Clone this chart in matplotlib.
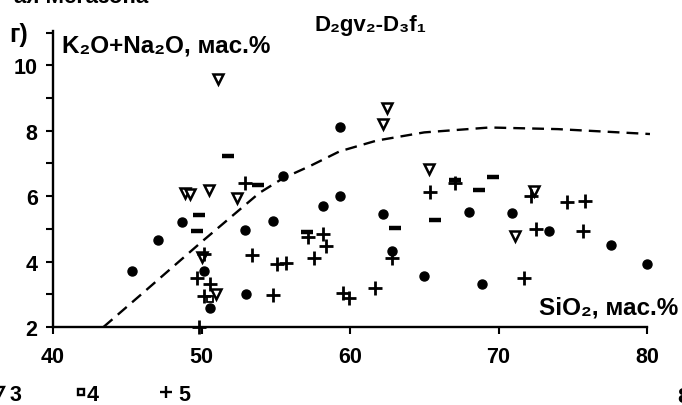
import matplotlib
matplotlib.use("Agg")
import matplotlib.pyplot as plt
from matplotlib.lines import Line2D
from matplotlib.ticker import MultipleLocator

plt.rcParams['font.family'] = ['Liberation Sans', 'DejaVu Sans']
plt.rcParams['font.weight'] = 'bold'

# серия 1 - кружки
x1 = [45.3, 47.1, 48.7, 50.2, 50.6, 52.9, 53.0, 54.8, 55.5, 58.2, 59.3, 59.3,
      62.2, 62.8, 65.0, 68.0, 68.9, 70.9, 73.4, 77.6, 80.0]
y1 = [3.72, 4.67, 5.2, 3.72, 2.57, 4.97, 3.0, 5.24, 6.62, 5.69, 8.12, 6.0,
      5.45, 4.31, 3.57, 5.53, 3.31, 5.48, 4.92, 4.5, 3.92]

# серия 2 - черточки
x2 = [49.8, 49.7, 51.8, 53.8, 57.1, 63.0, 65.7, 67.1, 68.7, 69.6]
y2 = [5.43, 4.94, 7.23, 6.35, 4.9, 5.04, 5.28, 6.5, 6.18, 6.6]

# серия 3 - треугольники
x3 = [51.1, 48.9, 49.2, 50.5, 52.4, 62.5, 62.2, 65.3, 71.1, 50.0, 51.0, 72.4]
y3 = [9.57, 6.11, 6.08, 6.18, 5.95, 8.71, 8.2, 6.82, 4.79, 4.13, 3.0, 6.15]

# серия 4 - квадраты
x4 = [50.6]
y4 = [2.85]

# серия 5 - кресты
x5 = [49.8, 50.2, 49.7, 50.6, 50.2, 52.9, 53.4, 54.8, 55.1, 55.7, 57.2, 57.6,
      58.2, 58.4, 59.5, 59.95, 61.7, 62.8, 65.4, 67.1, 71.7, 72.2, 72.5, 74.6,
      75.8, 75.7]
y5 = [2.0, 4.23, 3.5, 3.3, 2.96, 6.4, 4.2, 2.98, 3.92, 3.95, 4.75, 4.1,
      4.84, 4.48, 3.03, 2.88, 3.19, 4.1, 6.13, 6.4, 3.49, 6.0, 5.01, 5.83,
      5.86, 4.94]

# пунктирная граница
xc = [43.4, 46.0, 50.0, 53.9, 55.5, 57.3, 59.3, 61.8, 65.0, 69.4, 74.0, 80.2]
yc = [2.0, 3.02, 4.6, 6.1, 6.55, 6.92, 7.37, 7.7, 7.95, 8.1, 8.05, 7.9]

W, H = 682, 406


def px(x, y):
    return x / W, 1 - y / H


fig = plt.figure(figsize=(6.82, 4.06), dpi=100)
ax = fig.add_axes([53 / W, 78 / H, 594 / W, 296 / H])

ax.plot(xc, yc, color='black', lw=1.7, ls=(0, (5, 3)), clip_on=False)

ax.plot(x1, y1, 'o', color='black', ms=6.5, clip_on=False)
ax.plot(x2, y2, '_', color='black', ms=9, mew=3.2, clip_on=False)
ax.plot(x3, y3, 'v', mfc='white', mec='black', ms=7.5, mew=1.8, clip_on=False)
ax.plot(x4, y4, 's', mfc='white', mec='black', ms=4, mew=1.3, clip_on=False)
ax.plot(x5, y5, '+', color='black', ms=10, mew=2.0, clip_on=False)

ax.set_xlim(40, 80)
ax.set_ylim(2, 11.05)
ax.spines['top'].set_visible(False)
ax.spines['right'].set_visible(False)
ax.spines['left'].set_linewidth(1.7)
ax.spines['bottom'].set_linewidth(1.7)
ax.spines['bottom'].set_bounds(40, 80)

ax.set_xticks([40, 50, 60, 70, 80])
ax.set_yticks([2, 4, 6, 8, 10])
ax.yaxis.set_minor_locator(MultipleLocator(1))
ax.tick_params(axis='both', which='both', direction='out', width=1.5,
               length=5, labelsize=15.5)
ax.tick_params(axis='x', pad=9)
ax.tick_params(axis='y', pad=6)

# подписи осей и заголовок
fig.text(*px(62, 53), 'K\u2082O+Na\u2082O, мас.%', fontsize=17.5, va='baseline')
fig.text(*px(539, 315), 'SiO\u2082, мас.%', fontsize=17.5, va='baseline')
fig.text(*px(370, 31), 'D\u2082gv\u2082-D\u2083f\u2081', fontsize=16,
         ha='center', va='baseline')
fig.text(*px(9, 42), 'г)', fontsize=18, va='baseline')
fig.text(*px(148, 3), 'ая Мегазона', fontsize=16, ha='right', va='baseline')
fig.text(*px(677, 403), '8', fontsize=16, va='baseline')

# легенда внизу
for mx, mk, mfc, ms, lab, lx in [(-1, 'v', 'white', 7.5, '3', 10),
                                 (80.5, 's', 'white', 5, '4', 87),
                                 (166, '+', 'black', 9, '5', 178)]:
    fig.add_artist(Line2D([mx / W], [1 - 393 / H], marker=mk, mfc=mfc,
                          mec='black', ms=ms, mew=1.7, ls='none',
                          transform=fig.transFigure))
    fig.text(*px(lx, 401), lab, fontsize=15.5, va='baseline')

fig.savefig('out.png', dpi=100)
